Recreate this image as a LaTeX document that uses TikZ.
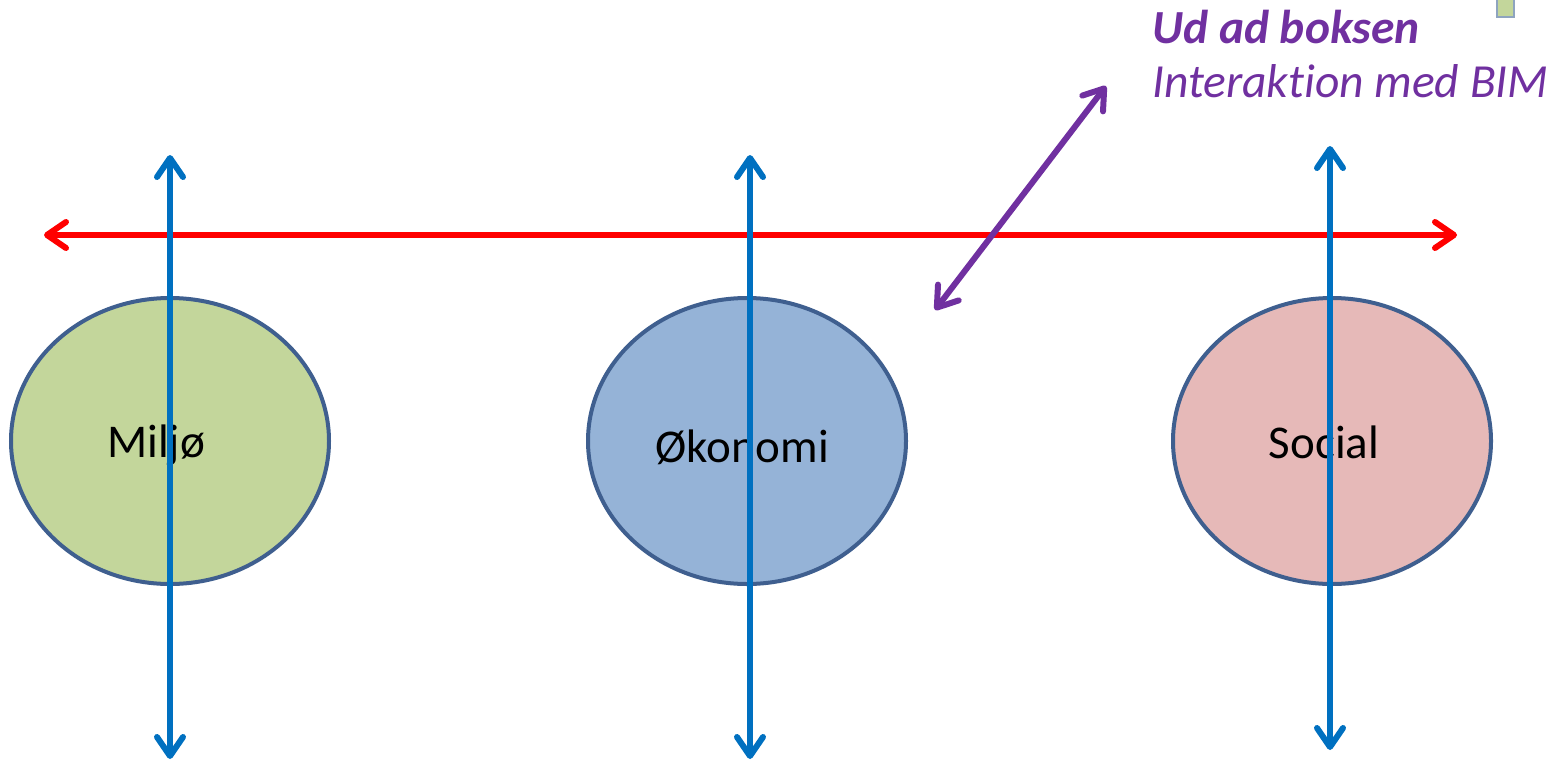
\documentclass[tikz,border=0pt]{standalone}
\usepackage{fontspec}
\setmainfont[Ligatures={NoCommon}]{Carlito}
\usetikzlibrary{arrows.meta,shapes.geometric}
\definecolor{ringc}{HTML}{3F5F8F}
\definecolor{greenf}{HTML}{C3D69B}
\definecolor{bluef}{HTML}{95B3D7}
\definecolor{pinkf}{HTML}{E6B9B8}
\definecolor{arrblue}{HTML}{0070C0}
\definecolor{arrpurple}{HTML}{7030A0}
\definecolor{arrred}{HTML}{FF0000}
\definecolor{boxedge}{HTML}{8EA4BF}
\tikzset{
  pillar/.style={ellipse, draw=ringc, line width=4pt, minimum width=318pt, minimum height=286pt, inner sep=0pt},
  lbl/.style={font=\fontsize{47}{56}\selectfont, anchor=base, inner sep=0pt},
  openarrow/.style={line width=6pt, line cap=round, {Straight Barb[length=19pt,width=26pt,line cap=round,line join=round]}-{Straight Barb[length=19pt,width=26pt,line cap=round,line join=round]}},
  note/.style={font=\fontsize{47.5}{56}\selectfont\itshape, text=arrpurple, anchor=base west, inner sep=0pt}
}
\begin{document}
\begin{tikzpicture}[x=1pt,y=-1pt]
\useasboundingbox (0,0) rectangle (1557,763);
% ellipses
\node[pillar, fill=greenf] (milj) at (170,441) {};
\node[pillar, fill=bluef] (okon) at (747,441) {};
\node[pillar, fill=pinkf] (soc) at (1332,441) {};
% labels
\node[lbl] (tmilj) at (156,457) {Miljø};
\node[lbl] (tokon) at (742,462) {Økonomi};
\node[lbl] (tsoc) at (1324,458) {Social};
% arrow end points
\coordinate (rl) at (44,235);
\coordinate (rr) at (1457,235);
\coordinate (a1t) at (170,155);
\coordinate (a1b) at (170,759);
\coordinate (a2t) at (750,155);
\coordinate (a2b) at (750,759);
\coordinate (a3t) at (1330,146);
\coordinate (a3b) at (1330,750);
\coordinate (pl) at (935,310);
\coordinate (pu) at (1106,86);
% red horizontal
\draw[openarrow, arrred] (rl) -- (rr);
% blue verticals
\draw[openarrow, arrblue] (a1t) -- (a1b);
\draw[openarrow, arrblue] (a2t) -- (a2b);
\draw[openarrow, arrblue] (a3t) -- (a3b);
% purple diagonal
\draw[openarrow, arrpurple] (pl) -- (pu);
% note text
\node[note, font=\fontsize{47.5}{56}\selectfont\bfseries\itshape] (t1) at (1152,43) {Ud ad boksen};
\node[note] (t2) at (1152,97) {Interaktion med BIM};
% small green box at top right
\node[draw=boxedge, fill=greenf, line width=1.5pt, minimum width=17pt, minimum height=18pt, inner sep=0pt, anchor=north west] (gbox) at (1496,-2) {};
\end{tikzpicture}
\end{document}
